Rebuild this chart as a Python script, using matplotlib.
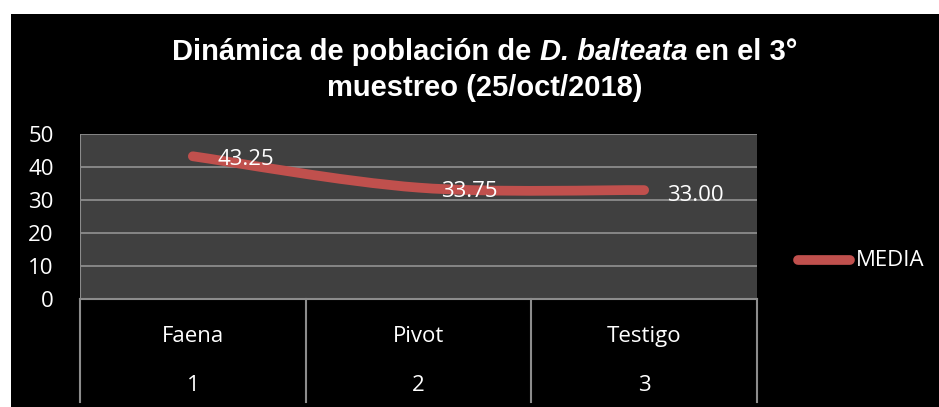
import matplotlib.pyplot as plt
import numpy as np
from matplotlib.path import Path
from matplotlib.patches import PathPatch, Rectangle

# data
categories = ["Faena", "Pivot", "Testigo"]
cat_numbers = ["1", "2", "3"]
media = [43.25, 33.75, 33.00]
yticks = [0, 10, 20, 30, 40, 50]

W, H = 939, 407
fig = plt.figure(figsize=(W / 100, H / 100), dpi=100)
fig.patch.set_facecolor("white")

# black chart area
fig.patches.append(Rectangle((11 / W, 0), 1 - 11 / W, 1 - 14 / H, transform=fig.transFigure,
                             facecolor="black", edgecolor="none", zorder=-10))

red = "#C0504D"
grid_c = "#8C8C8C"
txt_font = ["Open Sans", "DejaVu Sans"]
fs = 16
title_font = "Liberation Sans"
title_size = 21

# main plot area: x 80..757, y 134..299 (pixels)
x0, x1, ytop, ybot = 80, 757, 134, 299
ax = fig.add_axes([x0 / W, 1 - ybot / H, (x1 - x0) / W, (ybot - ytop) / H])
ax.set_facecolor("#404040")
ax.set_xlim(0.5, 3.5)
ax.set_ylim(0, 50)
ax.set_yticks(yticks)
ax.set_yticklabels([str(v) for v in yticks], color="white", fontsize=fs, family=txt_font)
ax.tick_params(axis="y", length=0, pad=19)
for lab in ax.get_yticklabels():
    lab.set_horizontalalignment("right")
ax.set_xticks([])
for v in yticks:
    ax.axhline(v, color=grid_c, lw=1.3, zorder=1)
for s in ["top", "right", "left"]:
    ax.spines[s].set_visible(False)
ax.spines["bottom"].set_color(grid_c)
ax.spines["bottom"].set_linewidth(1.5)
ax.axvline(0.5, color=grid_c, lw=1.5)

# smoothed line (Excel-style bezier through the data points)
xs = np.arange(1, len(media) + 1, dtype=float)
ys = np.array(media, dtype=float)
pts = np.column_stack([xs, ys])
verts = [pts[0]]
codes = [Path.MOVETO]
n = len(pts)
for i in range(n - 1):
    p_prev = pts[i - 1] if i > 0 else pts[i]
    p_next = pts[i + 2] if i + 2 < n else pts[i + 1]
    c1 = pts[i] + (pts[i + 1] - p_prev) / 6
    c2 = pts[i + 1] - (p_next - pts[i]) / 6
    verts += [c1, c2, pts[i + 1]]
    codes += [Path.CURVE4] * 3
ax.add_patch(PathPatch(Path(verts, codes), facecolor="none", edgecolor=red, lw=7,
                       capstyle="round", joinstyle="round", zorder=3))

# data labels
offsets = [(0.11, -0.9), (0.1, -1.3), (0.1, -1.6)]
for x, y, (dx, dy) in zip(xs, ys, offsets):
    ax.text(x + dx, y + dy, f"{y:.2f}", color="white", fontsize=fs, family=txt_font,
            ha="left", va="center", zorder=4)

# category table below axis
bx = fig.add_axes([x0 / W, 1 - 402 / H, (x1 - x0) / W, (402 - ybot) / H])
bx.set_xlim(0.5, 3.5)
bx.set_ylim(0, 1)
bx.axis("off")
for b in np.arange(0.5, len(categories) + 1, 1.0):
    bx.plot([b, b], [0, 1], color=grid_c, lw=1.5, clip_on=False)
for i, (c, num) in enumerate(zip(categories, cat_numbers)):
    bx.text(i + 1, 0.64, c, color="white", fontsize=fs, family=txt_font, ha="center", va="center")
    bx.text(i + 1, 0.16, num, color="white", fontsize=fs, family=txt_font, ha="center", va="center")

# legend
fig.lines.append(plt.Line2D([798 / W, 850 / W], [1 - 260 / H] * 2, transform=fig.transFigure,
                            color=red, lw=7, solid_capstyle="round"))
fig.text(856 / W, 1 - 260 / H, "MEDIA", color="white", fontsize=fs, family=txt_font,
         ha="left", va="center")

# title, first line built from pieces so the species name is bold italic
pieces = [("Dinámica de población de ", "normal"), ("D. balteata", "italic"), (" en el 3°", "normal")]
renderer = fig.canvas.get_renderer()
tmp = []
for s, st in pieces:
    t = fig.text(0, 0, s, fontsize=title_size, fontweight="bold", style=st, family=title_font)
    tmp.append(t.get_window_extent(renderer).width)
    t.remove()
xpos = 485 - sum(tmp) / 2
for (s, st), w in zip(pieces, tmp):
    fig.text(xpos / W, 1 - 52 / H, s, color="white", fontsize=title_size, fontweight="bold",
             style=st, family=title_font, ha="left", va="center")
    xpos += w
fig.text(485 / W, 1 - 88 / H, "muestreo (25/oct/2018)", color="white", fontsize=title_size,
         fontweight="bold", family=title_font, ha="center", va="center")

fig.savefig("out.png", dpi=100, facecolor=fig.get_facecolor())
